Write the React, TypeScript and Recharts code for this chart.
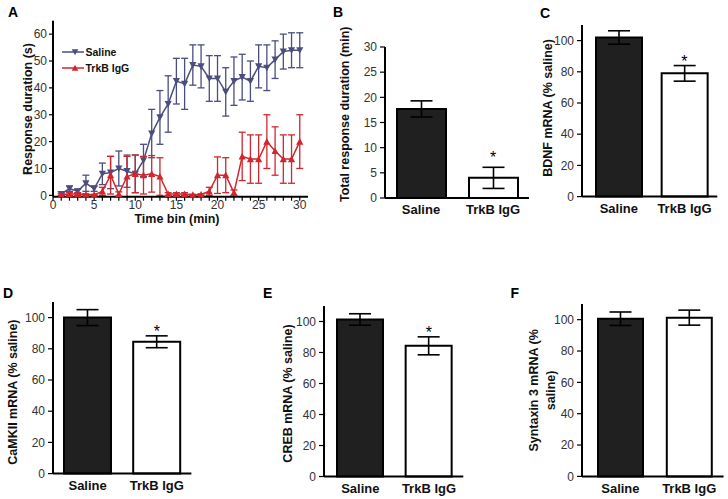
import React from "react";
import {
  LineChart,
  Line,
  BarChart,
  Bar,
  Cell,
  XAxis,
  YAxis,
  ErrorBar,
  Legend,
  ReferenceDot,
} from "recharts";

const FONT = '"Liberation Sans", Arial, Helvetica, sans-serif';
const NAVY = "#4a4d7e";
const RED = "#d0262d";
const TICK_FILL = "#333";
const LABEL_FILL = "#111";

// Panel A: response duration per 1-min time bin (mean, SEM)
const TIME_BINS = [
  1, 2, 3, 4, 5, 6, 7, 8, 9, 10, 11, 12, 13, 14, 15, 16, 17, 18, 19, 20, 21, 22, 23, 24, 25, 26, 27, 28, 29, 30,
];
const SALINE_MEAN = [
  0.5, 2.5, 1.5, 4.5, 2.5, 8, 8.5, 10, 9, 8, 13, 23, 29, 34, 42.5, 41.5, 48.5, 48, 43.5, 43.5, 38.5, 42.5, 44,
  42.5, 48, 47.5, 50.5, 53.5, 54, 54,
];
const SALINE_SEM = [
  0.8, 1, 0.8, 3, 1, 4, 6, 6.5, 6, 7, 6, 9, 10, 10.5, 8.5, 9.5, 7.5, 8, 8.5, 8.5, 9, 9, 8.5, 7.5, 8, 8.5, 7, 6.5,
  6.5, 6.5,
];
const TRKB_MEAN = [
  0.3, 0.5, 0.5, 0.3, 0.2, 1.5, 7.5, 0.5, 7, 8, 7.5, 8, 7, 0.5, 0.5, 0.5, 0.2, 0.3, 1.5, 7.5, 7.5, 1, 14.5, 13.5,
  13.5, 20, 16.5, 13.5, 13.5, 20,
];
const TRKB_SEM = [
  0.3, 0.5, 0.5, 0.3, 0.2, 1.5, 7, 0.8, 7.5, 7, 7, 6.8, 7, 0.5, 0.5, 0.5, 0.2, 0.3, 1.5, 6.8, 6.5, 1, 9, 9, 9, 10,
  9, 9, 9, 10,
];
const TIME_Y_TICKS = [0, 10, 20, 30, 40, 50, 60];
const TIME_X_TICKS = TIME_BINS.map((t) => t - 1).concat([30]);

// Panels B-F: group means and SEM
const GROUPS = ["Saline", "TrkB IgG"];
const TOTAL_DURATION = [17.7, 4.0];
const TOTAL_DURATION_SEM = [1.6, 2.1];
const BDNF = [102, 79];
const BDNF_SEM = [4.3, 5];
const CAMKII = [100, 84.5];
const CAMKII_SEM = [5.1, 3.8];
const CREB = [101.3, 84.3];
const CREB_SEM = [3.7, 5.8];
const SYNTAXIN = [100.6, 101.3];
const SYNTAXIN_SEM = [4.3, 4.8];
const DURATION_TICKS = [0, 5, 10, 15, 20, 25, 30];
const MRNA_TICKS = [0, 20, 40, 60, 80, 100];

const timeData = TIME_BINS.map((t, i) => ({
  t,
  saline: SALINE_MEAN[i],
  salineSem: SALINE_SEM[i],
  trkb: TRKB_MEAN[i],
  trkbSem: TRKB_SEM[i],
}));

const triangle = (cx: number, cy: number, down: boolean, s = 3.6) =>
  down
    ? `${cx - s},${cy - s * 0.85} ${cx + s},${cy - s * 0.85} ${cx},${cy + s}`
    : `${cx - s},${cy + s * 0.85} ${cx + s},${cy + s * 0.85} ${cx},${cy - s}`;

const makeDot = (color: string, down: boolean) => (p: any) => {
  if (p.cx == null || p.cy == null) return <g key={p.index} />;
  return <polygon key={p.index} points={triangle(p.cx, p.cy, down)} fill={color} />;
};

const renderLegend = () => (
  <div style={{ fontSize: 10.5, fontWeight: "bold", color: LABEL_FILL, fontFamily: FONT }}>
    {[
      { name: "Saline", color: NAVY, down: true },
      { name: "TrkB IgG", color: RED, down: false },
    ].map((item) => (
      <div key={item.name} style={{ display: "flex", alignItems: "center", height: 16.6 }}>
        <svg width={22} height={10}>
          <line x1={0} x2={22} y1={5} y2={5} stroke={item.color} strokeWidth={1.5} />
          <polygon points={triangle(13, 5, item.down, 3.3)} fill={item.color} />
        </svg>
        <span style={{ marginLeft: 2 }}>{item.name}</span>
      </div>
    ))}
  </div>
);

const rotatedLabel = (lines: string[], cx: number, cy: number) => () => (
  <text
    transform={`translate(${cx},${cy}) rotate(-90)`}
    textAnchor="middle"
    fontSize={12.5}
    fontWeight="bold"
    fill={LABEL_FILL}
    fontFamily={FONT}
  >
    {lines.map((l, i) => (
      <tspan key={i} x={0} y={(i - (lines.length - 1) / 2) * 17} dy="0.35em">
        {l}
      </tspan>
    ))}
  </text>
);

function TimeCourse() {
  const left = 3;
  const plotLeft = 53;
  const plotRight = 308;
  const plotTop = 20.7;
  const plotBottom = 196.7;
  const width = 313 - left;
  const xAxisH = 34;
  const height = plotBottom + xAxisH;
  return (
    <div style={{ position: "absolute", left, top: 0 }}>
      <LineChart
        width={width}
        height={height}
        data={timeData}
        margin={{ top: plotTop, right: left + width - plotRight, left: 0, bottom: 0 }}
      >
        <XAxis
          dataKey="t"
          type="number"
          domain={[0, 31]}
          ticks={TIME_X_TICKS}
          interval={0}
          height={xAxisH}
          tickFormatter={(v: number) => (v % 5 === 0 ? String(v) : "")}
          tickSize={4}
          tickMargin={0}
          axisLine={{ stroke: "#000", strokeWidth: 2 }}
          tickLine={{ stroke: "#000", strokeWidth: 1.2 }}
          tick={{ fill: TICK_FILL, fontSize: 12 }}
          label={() => (
            <text
              x={177 - left}
              y={223}
              textAnchor="middle"
              fontSize={12.5}
              fontWeight="bold"
              fill={LABEL_FILL}
              fontFamily={FONT}
            >
              Time bin (min)
            </text>
          )}
        />
        <YAxis
          width={plotLeft - left}
          domain={[0, 65]}
          ticks={TIME_Y_TICKS}
          interval={0}
          tickSize={4}
          tickMargin={2}
          axisLine={{ stroke: "#000", strokeWidth: 2 }}
          tickLine={{ stroke: "#000", strokeWidth: 1.2 }}
          tick={{ fill: TICK_FILL, fontSize: 12 }}
          label={rotatedLabel(["Response duration (s)"], 27.5 - left, 109)}
        />
        <Legend
          layout="vertical"
          align="center"
          verticalAlign="middle"
          content={renderLegend}
          wrapperStyle={{ left: 61.5 - left, top: 43.5, width: "auto" }}
        />
        <Line
          dataKey="saline"
          stroke={NAVY}
          strokeWidth={1.5}
          isAnimationActive={false}
          dot={makeDot(NAVY, true)}
          activeDot={false}
        >
          <ErrorBar dataKey="salineSem" width={3.5} stroke={NAVY} strokeWidth={1.3} direction="y" />
        </Line>
        <Line
          dataKey="trkb"
          stroke={RED}
          strokeWidth={1.5}
          isAnimationActive={false}
          dot={makeDot(RED, false)}
          activeDot={false}
        >
          <ErrorBar dataKey="trkbSem" width={3.5} stroke={RED} strokeWidth={1.3} direction="y" />
        </Line>
      </LineChart>
    </div>
  );
}

type PanelCfg = {
  values: number[];
  sems: number[];
  stars: boolean[];
  x0: number;
  x1: number;
  yTop: number;
  yBottom: number;
  yMax: number;
  yTicks: number[];
  padLeft: number;
  barSize: number;
  label: string[];
  labelX: number;
  labelY: number;
  starOffset: number;
};

const AXIS_W = 62;
const TOP_PAD = 40;
const RIGHT_PAD = 6;
const BAR_X_AXIS_H = 30;

function BarPanel({ cfg }: { cfg: PanelCfg }) {
  const left = cfg.x0 - AXIS_W;
  const top = cfg.yTop - TOP_PAD;
  const width = cfg.x1 + RIGHT_PAD - left;
  const height = cfg.yBottom + BAR_X_AXIS_H - top;
  const data = GROUPS.map((g, i) => ({ group: g, value: cfg.values[i], sem: cfg.sems[i] }));
  return (
    <div style={{ position: "absolute", left, top }}>
      <BarChart
        width={width}
        height={height}
        data={data}
        barSize={cfg.barSize}
        margin={{ top: TOP_PAD, right: RIGHT_PAD, left: 0, bottom: 0 }}
      >
        <XAxis
          dataKey="group"
          height={BAR_X_AXIS_H}
          padding={{ left: cfg.padLeft, right: 0 }}
          interval={0}
          tickLine={false}
          tickSize={4}
          tickMargin={3}
          axisLine={{ stroke: "#000", strokeWidth: 2 }}
          tick={{ fill: LABEL_FILL, fontSize: 13, fontWeight: "bold" }}
        />
        <YAxis
          width={AXIS_W}
          domain={[0, cfg.yMax]}
          ticks={cfg.yTicks}
          interval={0}
          tickSize={5}
          tickMargin={3}
          axisLine={{ stroke: "#000", strokeWidth: 2 }}
          tickLine={{ stroke: "#000", strokeWidth: 1.2 }}
          tick={{ fill: TICK_FILL, fontSize: 12 }}
          label={rotatedLabel(cfg.label, cfg.labelX - left, cfg.labelY - top)}
        />
        <Bar dataKey="value" stroke="#000" strokeWidth={2} isAnimationActive={false}>
          {data.map((d, i) => (
            <Cell key={d.group} fill={i === 0 ? "#202020" : "#ffffff"} />
          ))}
          <ErrorBar dataKey="sem" width={11} stroke="#000" strokeWidth={1.6} direction="y" />
        </Bar>
        {cfg.stars.map((s, i) =>
          s ? (
            <ReferenceDot
              key={i}
              x={GROUPS[i]}
              y={cfg.values[i] + cfg.sems[i]}
              r={0}
              fill="none"
              stroke="none"
              label={{ value: "*", position: "top", offset: cfg.starOffset, fontSize: 16, fill: "#000" }}
            />
          ) : null
        )}
      </BarChart>
    </div>
  );
}

const PANELS: PanelCfg[] = [
  {
    values: TOTAL_DURATION,
    sems: TOTAL_DURATION_SEM,
    stars: [false, true],
    x0: 385,
    x1: 529,
    yTop: 46.7,
    yBottom: 197.7,
    yMax: 30,
    yTicks: DURATION_TICKS,
    padLeft: 0,
    barSize: 49,
    label: ["Total response duration (min)"],
    labelX: 345,
    labelY: 114,
    starOffset: 4,
  },
  {
    values: BDNF,
    sems: BDNF_SEM,
    stars: [false, true],
    x0: 581.7,
    x1: 717,
    yTop: 25.1,
    yBottom: 196.7,
    yMax: 110,
    yTicks: MRNA_TICKS,
    padLeft: 4,
    barSize: 46,
    label: ["BDNF mRNA (% saline)"],
    labelX: 547.5,
    labelY: 108,
    starOffset: -1,
  },
  {
    values: CAMKII,
    sems: CAMKII_SEM,
    stars: [false, true],
    x0: 53.3,
    x1: 191.7,
    yTop: 302.4,
    yBottom: 474,
    yMax: 110,
    yTicks: MRNA_TICKS,
    padLeft: 0,
    barSize: 47,
    label: ["CaMKII mRNA (% saline)"],
    labelX: 12.5,
    labelY: 392.5,
    starOffset: -1,
  },
  {
    values: CREB,
    sems: CREB_SEM,
    stars: [false, true],
    x0: 324,
    x1: 463.3,
    yTop: 305.5,
    yBottom: 476,
    yMax: 110,
    yTicks: MRNA_TICKS,
    padLeft: 2,
    barSize: 46,
    label: ["CREB mRNA (% saline)"],
    labelX: 287.5,
    labelY: 393,
    starOffset: -1,
  },
  {
    values: SYNTAXIN,
    sems: SYNTAXIN_SEM,
    stars: [false, false],
    x0: 581.7,
    x1: 723.3,
    yTop: 303.6,
    yBottom: 476,
    yMax: 110,
    yTicks: MRNA_TICKS,
    padLeft: 4,
    barSize: 45,
    label: ["Syntaxin 3 mRNA (%", "saline)"],
    labelX: 541.5,
    labelY: 390,
    starOffset: -1,
  },
];

const LETTERS = [
  { t: "A", x: 8, y: 16.8 },
  { t: "B", x: 333, y: 17 },
  { t: "C", x: 540, y: 18.3 },
  { t: "D", x: 3, y: 298.3 },
  { t: "E", x: 263, y: 297.5 },
  { t: "F", x: 510.5, y: 298.3 },
];

export default function App() {
  return (
    <div
      style={{
        position: "absolute",
        left: 0,
        top: 0,
        width: 728,
        height: 499,
        background: "#fff",
        fontFamily: FONT,
        overflow: "hidden",
      }}
    >
      <TimeCourse />
      {PANELS.map((cfg) => (
        <BarPanel key={cfg.label[0]} cfg={cfg} />
      ))}
      <svg
        width={728}
        height={499}
        style={{ position: "absolute", left: 0, top: 0, pointerEvents: "none" }}
      >
        {LETTERS.map((l) => (
          <text key={l.t} x={l.x} y={l.y} fontSize={14} fontWeight="bold" fill="#000" fontFamily={FONT}>
            {l.t}
          </text>
        ))}
      </svg>
    </div>
  );
}
